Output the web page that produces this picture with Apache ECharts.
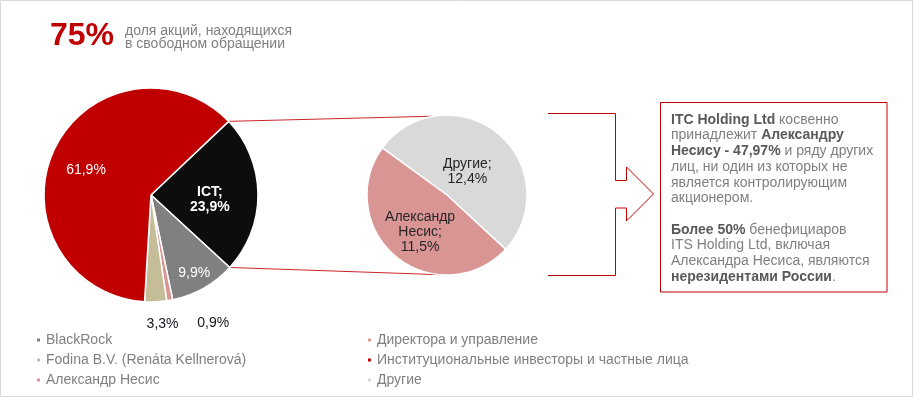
<!DOCTYPE html>
<html>
<head>
<meta charset="utf-8">
<script src="https://cdn.jsdelivr.net/npm/echarts@6/dist/echarts.min.js"></script>
<style>
  html, body { margin: 0; padding: 0; background: #fff; }
  #chart { width: 914px; height: 398px; }
</style>
</head>
<body>
<div id="chart"></div>
<script>
  // main pie: shareholders
  const mainNames = ['ICT', 'BlackRock', 'Директора и управление', 'Fodina B.V. (Renáta Kellnerová)', 'Институциональные инвесторы и частные лица'];
  const mainValues = [23.9, 9.9, 0.9, 3.3, 61.9];
  const mainColors = ['#0d0d0d', '#808080', '#d99594', '#c4bd97', '#c00000'];

  // ICT breakdown
  const ictNames = ['Другие', 'Александр Несис'];
  const ictValues = [12.4, 11.5];
  const ictColors = ['#d9d9d9', '#d99594'];

  const legendLeft = ['BlackRock', 'Fodina B.V. (Renáta Kellnerová)', 'Александр Несис'];
  const legendRight = ['Директора и управление', 'Институциональные инвесторы и частные лица', 'Другие'];

  const MAIN = { cx: 151, cy: 195, r: 107, start: 43.5 };
  const SUB = { cx: 447, cy: 195, r: 80, start: 144 };

  // label placement (fraction of radius, extra shift)
  const mainLabelRadius = [0.55, 0.82, 1.19, 1.19, 0.67];
  const mainLabelShift = [[0, 5], [0, 2], [40, 3], [6, 2], [0, 5]];
  const subLabelRadius = [0.4, 0.55];
  const subLabelShift = [[0, 1], [1, 3]];

  const fmt = v => v.toFixed(1).replace('.', ',') + '%';
  const rad = d => d * Math.PI / 180;

  function midAngle(values, i, start) {
    const total = values.reduce((a, b) => a + b, 0);
    let acc = 0;
    for (let k = 0; k < i; k++) acc += values[k];
    return rad(start - (acc + values[i] / 2) / total * 360);
  }

  function placer(pie, values, radii, shifts) {
    return function (p) {
      const a = midAngle(values, p.dataIndex, pie.start);
      const rr = pie.r * radii[p.dataIndex];
      const s = shifts[p.dataIndex];
      return {
        x: pie.cx + rr * Math.cos(a) + s[0],
        y: pie.cy - rr * Math.sin(a) + s[1],
        align: 'center',
        verticalAlign: 'middle'
      };
    };
  }

  // connector lines from the ICT slice edges to the second pie
  const mainTotal = mainValues.reduce((a, b) => a + b, 0);
  const ictEdge = [MAIN.start, MAIN.start - mainValues[0] / mainTotal * 360];
  const joinAngles = [100, 265];
  const joinLines = ictEdge.map((e, k) => ({
    type: 'line',
    shape: {
      x1: MAIN.cx + MAIN.r * Math.cos(rad(e)),
      y1: MAIN.cy - MAIN.r * Math.sin(rad(e)),
      x2: SUB.cx + SUB.r * Math.cos(rad(joinAngles[k])),
      y2: SUB.cy - SUB.r * Math.sin(rad(joinAngles[k]))
    },
    style: { stroke: '#c00000', lineWidth: 1, opacity: 0.85 },
    silent: true
  }));

  const legendBase = {
    orient: 'vertical',
    top: 333,
    padding: 0,
    icon: 'rect',
    itemWidth: 5,
    itemHeight: 5,
    itemGap: 6,
    selectedMode: false,
    textStyle: { color: '#7f7f7f', fontSize: 14, fontFamily: 'Liberation Sans, Arial, sans-serif' }
  };

  const option = {
    animation: false,
    textStyle: { fontFamily: 'Liberation Sans, Arial, sans-serif' },
    legend: [
      Object.assign({}, legendBase, { left: 35, data: legendLeft }),
      Object.assign({}, legendBase, { left: 366, data: legendRight })
    ],
    graphic: [
      { type: 'rect', shape: { x: 0.5, y: 0.5, width: 912, height: 396 }, style: { fill: null, stroke: '#d9d9d9', lineWidth: 1 }, silent: true },
      {
        type: 'text', left: 50, top: 20.5,
        style: { text: '75%', fill: '#c00000', font: 'bold 32px Liberation Sans, Arial, sans-serif' }
      },
      {
        type: 'text', left: 125, top: 24,
        style: { text: 'доля акций, находящихся\nв свободном обращении', fill: '#7f7f7f', font: '14px Liberation Sans, Arial, sans-serif', lineHeight: 13 }
      },
      ...joinLines,
      {
        type: 'polyline',
        shape: { points: [[548, 113.5], [615.5, 113.5], [615.5, 180.5], [626.5, 180.5], [626.5, 167], [653.5, 194], [626.5, 221], [626.5, 208], [615.5, 208], [615.5, 275.5], [548, 275.5]] },
        style: { stroke: '#c00000', lineWidth: 1, fill: null },
        silent: true
      },
      { type: 'rect', shape: { x: 660.5, y: 102.5, width: 226.5, height: 189.5 }, style: { fill: '#fff', stroke: '#c00000', lineWidth: 1 }, silent: true },
      {
        type: 'text', x: 671, y: 112,
        style: {
          text: '{b|ITC Holding Ltd} косвенно\n' +
                'принадлежит {b|Александру}\n' +
                '{b|Несису - 47,97%} и ряду других\n' +
                'лиц, ни один из которых не\n' +
                'является контролирующим\n' +
                'акционером.\n' +
                ' \n' +
                '{b|Более 50%} бенефициаров\n' +
                'ITS Holding Ltd, включая\n' +
                'Александра Несиса, являются\n' +
                '{b|нерезидентами России}.',
          fill: '#7f7f7f',
          font: '14px Liberation Sans, Arial, sans-serif',
          lineHeight: 15.7,
          verticalAlign: 'top',
          rich: {
            b: { fontWeight: 'bold', fill: '#595959', fontSize: 14, lineHeight: 15.7, fontFamily: 'Liberation Sans, Arial, sans-serif' }
          }
        }
      }
    ],
    series: [
      {
        type: 'pie',
        center: [MAIN.cx, MAIN.cy],
        radius: MAIN.r,
        startAngle: MAIN.start,
        clockwise: true,
        emphasis: { disabled: true },
        itemStyle: { borderColor: '#fff', borderWidth: 1.5 },
        label: {
          position: 'inside',
          fontSize: 14,
          color: '#fff',
          formatter: p => p.dataIndex === 0 ? p.name + ';\n' + fmt(p.value) : fmt(p.value)
        },
        labelLine: { show: false },
        labelLayout: placer(MAIN, mainValues, mainLabelRadius, mainLabelShift),
        data: mainNames.map((n, i) => ({
          name: n,
          value: mainValues[i],
          itemStyle: { color: mainColors[i] },
          label: i === 0 ? { fontWeight: 'bold', lineHeight: 15 } : (i === 2 || i === 3 ? { color: '#141420' } : {})
        }))
      },
      {
        type: 'pie',
        center: [SUB.cx, SUB.cy],
        radius: SUB.r,
        startAngle: SUB.start,
        clockwise: true,
        emphasis: { disabled: true },
        itemStyle: { borderColor: '#fff', borderWidth: 1.5 },
        label: {
          position: 'inside',
          fontSize: 14,
          lineHeight: 15,
          color: '#262626',
          formatter: p => p.name.replace(' ', '\n') + ';\n' + fmt(p.value)
        },
        labelLine: { show: false },
        labelLayout: placer(SUB, ictValues, subLabelRadius, subLabelShift),
        data: ictNames.map((n, i) => ({ name: n, value: ictValues[i], itemStyle: { color: ictColors[i] } }))
      }
    ]
  };

  const chart = echarts.init(document.getElementById('chart'));
  chart.setOption(option);
</script>
</body>
</html>
